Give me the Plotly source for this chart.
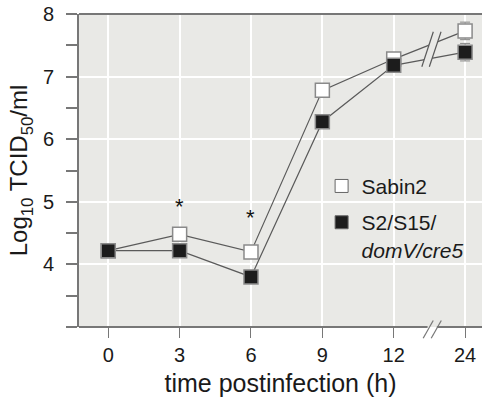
import plotly.graph_objects as go

times = ["0", "3", "6", "9", "12", "24"]
sabin2 = [4.22, 4.48, 4.20, 6.78, 7.28, 7.73]
sabin2_err = [0.06, 0.08, 0.08, 0.10, 0.08, 0.14]
s2s15 = [4.22, 4.22, 3.80, 6.28, 7.18, 7.39]
s2s15_err = [0.06, 0.06, 0.08, 0.10, 0.10, 0.14]
star_times = ["3", "6"]
star_y = [4.92, 4.75]
yticks = [4, 5, 6, 7, 8]
yticklabels = ["4", "5", "6", "7", "8"]

BG = "#e9e9e6"
AX = "#777777"
LINE = "#5a5a5a"
FONT = "Liberation Sans, Arial, sans-serif"

fig = go.Figure()

def add_series(y, err, fill):
    fig.add_trace(go.Scatter(
        x=times, y=y, mode="lines+markers", showlegend=False,
        line=dict(color=LINE, width=1.2),
        error_y=dict(type="data", array=err, color="#888888", thickness=1, width=5),
        marker=dict(symbol="square", size=14, color=fill, line=dict(color="#8a8a8a", width=1.5)),
    ))

add_series(sabin2, sabin2_err, "white")
add_series(s2s15, s2s15_err, "#1c1c1c")

# legend-only entries (markers only)
fig.add_trace(go.Scatter(x=[None], y=[None], mode="markers", name="Sabin2", legendgroup="a",
                         marker=dict(symbol="square", size=13, color="white",
                                     line=dict(color="#666666", width=1))))
fig.add_trace(go.Scatter(x=[None], y=[None], mode="markers", legendgroup="b",
                         name="S2/S15/<br><i>domV/cre5</i>",
                         marker=dict(symbol="square", size=13, color="#1c1c1c",
                                     line=dict(color="#666666", width=1))))

for t, yv in zip(star_times, star_y):
    fig.add_annotation(x=times.index(t), y=yv, text="*", showarrow=False,
                       font=dict(size=22, color="#111111", family=FONT))

shapes = []
# break on the data lines: cover and slashes
shapes.append(dict(type="path", xref="x", yref="y", layer="above",
                   path="M 4.394 7.157 L 4.555 7.717 L 4.663 7.717 L 4.499 7.157 Z",
                   fillcolor=BG, line=dict(width=0)))
for x0, x1 in [(4.394, 4.555), (4.499, 4.663)]:
    shapes.append(dict(type="line", xref="x", yref="y", layer="above",
                       x0=x0, y0=7.157, x1=x1, y1=7.717, line=dict(color=LINE, width=1.2)))
# bottom axis line with break
shapes.append(dict(type="line", xref="paper", yref="paper", x0=0, x1=0.865, y0=0, y1=0,
                   line=dict(color=AX, width=2)))
shapes.append(dict(type="line", xref="paper", yref="paper", x0=0.888, x1=1, y0=0, y1=0,
                   line=dict(color=AX, width=2)))
for x0, x1 in [(0.854, 0.879), (0.874, 0.899)]:
    shapes.append(dict(type="line", xref="paper", yref="paper", x0=x0, x1=x1,
                       y0=-0.036, y1=0.021, line=dict(color=AX, width=1.2)))
# top border
shapes.append(dict(type="line", xref="paper", yref="paper", x0=0, x1=1, y0=1, y1=1,
                   line=dict(color=AX, width=2)))

fig.update_layout(
    width=482, height=402,
    margin=dict(l=79, r=0, t=14, b=75),
    paper_bgcolor="white", plot_bgcolor=BG,
    font=dict(family=FONT, color="#1a1a1a"),
    shapes=shapes,
    legend=dict(x=0.602, y=0.515, xanchor="left", yanchor="top", bgcolor="rgba(0,0,0,0)",
                font=dict(size=21, family=FONT, color="#1a1a1a"), valign="top",
                traceorder="grouped", tracegroupgap=6),
    xaxis=dict(type="category", categoryorder="array", categoryarray=times,
               range=[-0.41, 5.237], showline=False, showgrid=True, gridcolor="white",
               gridwidth=2, zeroline=False, ticks="outside", ticklen=10, tickcolor=AX,
               tickwidth=1.2, tickfont=dict(size=20, family=FONT),
               title=dict(text="time postinfection (h)", font=dict(size=25, family=FONT), standoff=9)),
    yaxis=dict(range=[3, 8], tickvals=yticks, ticktext=yticklabels, showline=True,
               linecolor=AX, linewidth=2, showgrid=True, gridcolor="white", gridwidth=2,
               zeroline=False, ticks="outside", ticklen=11, tickcolor=AX, tickwidth=1.5,
               ticklabelstandoff=8, tickfont=dict(size=20, family=FONT),
               minor=dict(dtick=0.5, tick0=3, ticks="outside", ticklen=11, tickcolor=AX,
                          tickwidth=1.5, showgrid=False),
               title=dict(text="Log<sub>10</sub> TCID<sub>50</sub>/ml",
                          font=dict(size=24, family=FONT), standoff=8)),
)

fig.write_html("out.html")
